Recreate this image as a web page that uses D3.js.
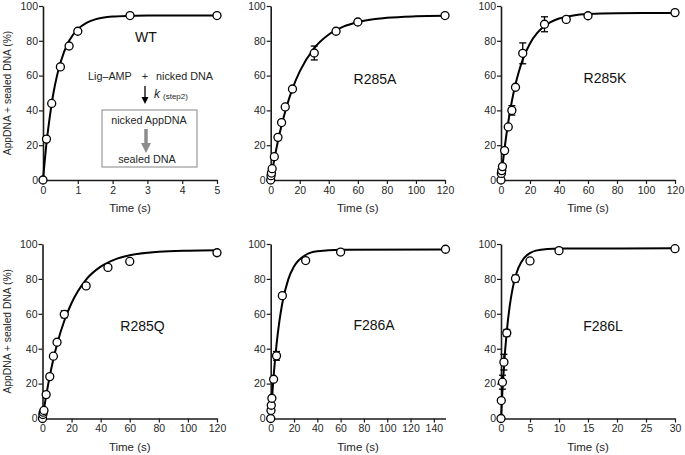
<!DOCTYPE html>
<html>
<head>
<meta charset="utf-8">
<script src="https://cdn.jsdelivr.net/npm/d3@7"></script>
<style>
  html, body { margin: 0; padding: 0; background: #fff; }
  svg { display: block; font-family: "Liberation Sans", Arial, Helvetica, sans-serif; }
</style>
</head>
<body>
<svg id="chart" width="685" height="455"></svg>
<script>
// ---------------- DATA ----------------
const panelNames = ["WT", "R285A", "R285K", "R285Q", "F286A", "F286L"];
const yTicks = [0, 20, 40, 60, 80, 100];
const yLabel = "AppDNA + sealed DNA (%)";
const xLabel = "Time (s)";

const wtTime = [0, 0.1, 0.25, 0.5, 0.75, 1, 2.5, 5];
const wtVal  = [0, 23.5, 44, 65, 77, 85.5, 94.5, 94.5];
const wtErr  = [0, 0, 0, 0, 0, 0, 0, 0];
const wtFitT = [0, 0.1, 0.2, 0.3, 0.4, 0.5, 0.75, 1, 1.25, 1.5, 2, 2.5, 3, 4, 5];
const wtFitY = [0, 21, 37, 50, 59.7, 67.4, 80, 86.7, 90.3, 92.3, 93.9, 94.3, 94.5, 94.5, 94.5];
const wtXTicks = [0, 1, 2, 3, 4, 5];

const r285aTime = [0, 0.25, 0.5, 1, 2.5, 5, 7.5, 10, 15, 30, 45, 60, 120];
const r285aVal  = [0, 2.5, 4, 6.5, 13.4, 24.5, 33, 42, 52.3, 73, 85.5, 90.8, 94.5];
const r285aErr  = [0, 0, 0, 0, 0, 0, 0, 0, 0, 4, 0, 0, 0];
const r285aFitT = [0, 2.5, 5, 7.5, 10, 15, 20, 30, 40, 50, 60, 80, 100, 120];
const r285aFitY = [0, 11.9, 22.4, 31.5, 39.4, 52.5, 62.4, 75.8, 83.6, 88.1, 90.8, 93.2, 94.1, 94.4];
const r285aXTicks = [0, 20, 40, 60, 80, 100, 120];

const r285kTime = [0, 0.25, 0.5, 1, 2.5, 5, 7.5, 10, 15, 30, 45, 60, 120];
const r285kVal  = [0, 3.8, 5.4, 7.7, 16.9, 30.5, 40, 53.3, 72.8, 89.5, 92.3, 94.4, 96.2];
const r285kErr  = [0, 0, 0, 0, 0, 0, 2.7, 0, 6, 4.3, 0, 0, 0];
const r285kFitT = [0, 2.5, 5, 7.5, 10, 12.5, 15, 20, 25, 30, 40, 50, 60, 80, 120];
const r285kFitY = [0, 18.4, 33.2, 45.3, 55, 62.8, 69.2, 78.5, 84.5, 88.5, 92.8, 94.6, 95.4, 95.9, 96];
const r285kXTicks = [0, 20, 40, 60, 80, 100, 120];

const r285qTime = [0, 0.25, 0.5, 1, 2.5, 5, 7.5, 10, 15, 30, 45, 60, 120];
const r285qVal  = [0, 2.3, 3.6, 4.6, 13.7, 24, 35.7, 43.7, 59.7, 76, 86.6, 90, 95];
const r285qErr  = [0, 0, 0, 0, 0, 0, 0, 0, 2, 0, 0, 0, 0];
const r285qFitT = [0, 2.5, 5, 7.5, 10, 15, 20, 30, 40, 50, 60, 80, 100, 120];
const r285qFitY = [0, 13, 24.3, 34.1, 42.5, 56, 66.2, 79.6, 87, 91.2, 93.5, 95.6, 96.2, 96.4];
const r285qXTicks = [0, 20, 40, 60, 80, 100, 120];

const f286aTime = [0, 0.25, 0.5, 1, 2.5, 5, 10, 30, 60, 150];
const f286aVal  = [0, 4.6, 7.6, 11.6, 22.5, 35.9, 70.4, 90.5, 95.4, 97];
const f286aErr  = [0, 0, 0, 0, 0, 2.5, 0, 0, 0, 0];
const f286aFitT = [0, 1, 2.5, 5, 7.5, 10, 15, 20, 30, 40, 60, 150];
const f286aFitY = [0, 10.5, 24.2, 42.3, 55.9, 66.2, 79.6, 87.1, 93.7, 95.8, 96.7, 96.8];
const f286aXTicks = [0, 20, 40, 60, 80, 100, 120, 140];

const f286lTime = [0, 0.05, 0.25, 0.5, 1, 2.5, 5, 10, 30];
const f286lVal  = [0, 10.3, 20.8, 32.3, 49, 80.2, 90.3, 96.2, 97.3];
const f286lErr  = [0, 0, 4, 4.5, 2, 2, 0, 0, 0];
const f286lFitT = [0, 0.25, 0.5, 1, 1.5, 2, 2.5, 3, 4, 5, 6, 8, 10, 30];
const f286lFitY = [0, 16.1, 29.4, 50, 64.4, 74.4, 81.4, 86.3, 92, 94.8, 96.2, 97.2, 97.4, 97.5];
const f286lXTicks = [0, 5, 10, 15, 20, 25, 30];

// ---------------- LAYOUT ----------------
const panels = [
  { name: panelNames[0], t: wtTime, v: wtVal, e: wtErr, ft: wtFitT, fy: wtFitY, ticks: wtXTicks, xmax: 5,
    x0: 43, x1: 217, y0: 180, y1: 6, lx: 146, ly: 41.5, ylab: true },
  { name: panelNames[1], t: r285aTime, v: r285aVal, e: r285aErr, ft: r285aFitT, fy: r285aFitY, ticks: r285aXTicks, xmax: 120,
    x0: 270.7, x1: 445, y0: 180, y1: 6, lx: 375, ly: 84 },
  { name: panelNames[2], t: r285kTime, v: r285kVal, e: r285kErr, ft: r285kFitT, fy: r285kFitY, ticks: r285kXTicks, xmax: 120,
    x0: 501, x1: 675, y0: 180, y1: 6, lx: 605, ly: 83 },
  { name: panelNames[3], t: r285qTime, v: r285qVal, e: r285qErr, ft: r285qFitT, fy: r285qFitY, ticks: r285qXTicks, xmax: 120,
    x0: 42.5, x1: 217, y0: 418.5, y1: 244, lx: 142.5, ly: 330.5, ylab: true },
  { name: panelNames[4], t: f286aTime, v: f286aVal, e: f286aErr, ft: f286aFitT, fy: f286aFitY, ticks: f286aXTicks, xmax: 150,
    x0: 270.7, x1: 445.5, y0: 418.5, y1: 244, lx: 374, ly: 329.5 },
  { name: panelNames[5], t: f286lTime, v: f286lVal, e: f286lErr, ft: f286lFitT, fy: f286lFitY, ticks: f286lXTicks, xmax: 30,
    x0: 501, x1: 675, y0: 418.5, y1: 244, lx: 603, ly: 330.5 }
];

const svg = d3.select("#chart");
const textCol = "#262626";
const axisCol = "#1a1a1a";
const fmt = d3.format("d");

panels.forEach(p => {
  const x = d3.scaleLinear().domain([0, p.xmax]).range([p.x0, p.x1]);
  const y = d3.scaleLinear().domain([0, 100]).range([p.y0, p.y1]);
  const g = svg.append("g");

  // axes
  const xa = g.append("g").attr("transform", `translate(0,${p.y0})`)
    .call(d3.axisBottom(x).tickValues(p.ticks).tickFormat(fmt).tickSize(4).tickPadding(2.5).tickSizeOuter(0));
  const ya = g.append("g").attr("transform", `translate(${p.x0},0)`)
    .call(d3.axisLeft(y).tickValues(yTicks).tickFormat(fmt).tickSize(4).tickPadding(1).tickSizeOuter(0));
  [xa, ya].forEach(a => {
    a.select(".domain").attr("stroke", axisCol).attr("stroke-width", 1.6);
    a.selectAll(".tick line").attr("stroke", axisCol).attr("stroke-width", 1.2);
    a.selectAll(".tick text").attr("fill", textCol).style("font-size", "10.5px");
  });

  // x title
  g.append("text").attr("x", (p.x0 + p.x1) / 2).attr("y", p.y0 + 32)
    .attr("text-anchor", "middle").attr("fill", textCol).style("font-size", "11.5px").text(xLabel);

  if (p.ylab) {
    g.append("text")
      .attr("transform", `translate(11,${(p.y0 + p.y1) / 2}) rotate(-90)`)
      .attr("text-anchor", "middle").attr("fill", textCol).style("font-size", "10.3px").text(yLabel);
  }

  // panel label
  g.append("text").attr("x", p.lx).attr("y", p.ly).attr("text-anchor", "middle")
    .attr("fill", "#111").style("font-size", "14px").text(p.name);

  // fit curve
  const fit = p.ft.map((t, i) => [t, p.fy[i]]);
  g.append("path").datum(fit)
    .attr("fill", "none").attr("stroke", "#000").attr("stroke-width", 2)
    .attr("d", d3.line().x(d => x(d[0])).y(d => y(d[1])).curve(d3.curveMonotoneX));

  // data
  const pts = p.t.map((t, i) => ({ t, v: p.v[i], e: p.e[i] }));
  const eb = g.append("g").selectAll("g").data(pts.filter(d => d.e > 0)).join("g");
  eb.append("line").attr("x1", d => x(d.t)).attr("x2", d => x(d.t))
    .attr("y1", d => y(d.v - d.e)).attr("y2", d => y(d.v + d.e))
    .attr("stroke", "#000").attr("stroke-width", 1.3);
  eb.append("line").attr("x1", d => x(d.t) - 3.5).attr("x2", d => x(d.t) + 3.5)
    .attr("y1", d => y(d.v + d.e)).attr("y2", d => y(d.v + d.e))
    .attr("stroke", "#000").attr("stroke-width", 1.3);
  eb.append("line").attr("x1", d => x(d.t) - 3.5).attr("x2", d => x(d.t) + 3.5)
    .attr("y1", d => y(d.v - d.e)).attr("y2", d => y(d.v - d.e))
    .attr("stroke", "#000").attr("stroke-width", 1.3);

  g.append("g").selectAll("circle").data(pts).join("circle")
    .attr("cx", d => x(d.t)).attr("cy", d => y(d.v)).attr("r", 4)
    .attr("fill", "#fff").attr("stroke", "#000").attr("stroke-width", 1.3);
});

// ---------------- WT inset scheme ----------------
const inset = svg.append("g").attr("fill", textCol).style("font-size", "10.8px");
inset.append("text").attr("x", 88).attr("y", 80).text("Lig\u2013AMP");
inset.append("text").attr("x", 145).attr("y", 80).attr("text-anchor", "middle").text("+");
inset.append("text").attr("x", 156).attr("y", 80).text("nicked DNA");

// black arrow
inset.append("line").attr("x1", 145).attr("x2", 145).attr("y1", 86).attr("y2", 98)
  .attr("stroke", "#000").attr("stroke-width", 1.3);
inset.append("path").attr("d", "M141.5,97 L148.5,97 L145,104 Z").attr("fill", "#000");
const kt = inset.append("text").attr("x", 154).attr("y", 98);
kt.append("tspan").style("font-style", "italic").style("font-size", "12px").text("k");
kt.append("tspan").attr("dx", 3).attr("dy", 1).style("font-size", "8px").text("(step2)");

// box
inset.append("rect").attr("x", 102).attr("y", 110).attr("width", 95).attr("height", 57)
  .attr("fill", "#fff").attr("stroke", "#9a9a9a").attr("stroke-width", 1.2);
inset.append("text").attr("x", 149).attr("y", 124).attr("text-anchor", "middle").text("nicked AppDNA");
inset.append("line").attr("x1", 146).attr("x2", 146).attr("y1", 129).attr("y2", 144)
  .attr("stroke", "#8c8c8c").attr("stroke-width", 3.5);
inset.append("path").attr("d", "M141,143 L151,143 L146,153 Z").attr("fill", "#8c8c8c");
inset.append("text").attr("x", 147).attr("y", 163).attr("text-anchor", "middle").text("sealed DNA");
</script>
</body>
</html>
